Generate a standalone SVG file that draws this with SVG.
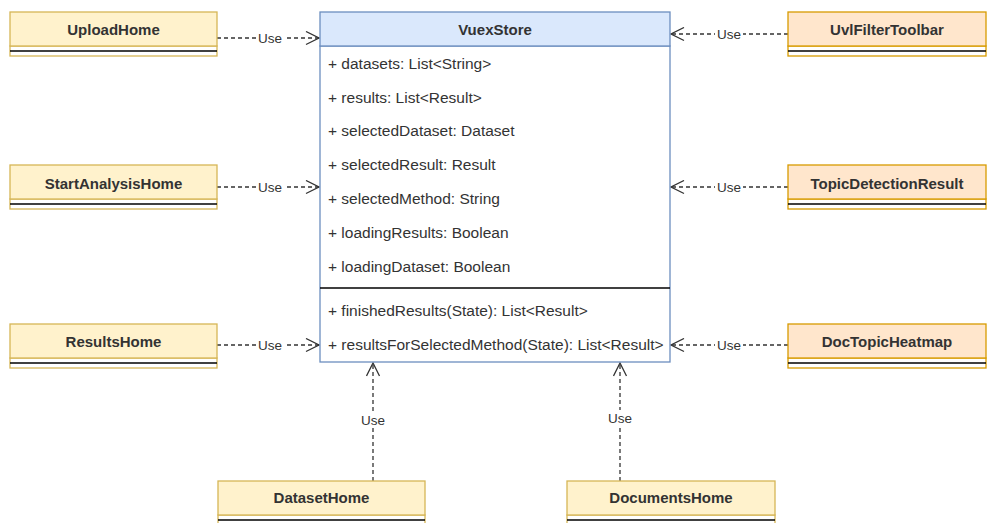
<svg xmlns="http://www.w3.org/2000/svg" width="988" height="523" viewBox="0 0 988 523">
  <style>
    .title { font-family: "Liberation Sans", Arial, sans-serif; font-size: 15px; font-weight: bold; fill: #333333; text-anchor: middle; }
    .member { font-family: "Liberation Sans", Arial, sans-serif; font-size: 15.5px; fill: #333333; }
    .lbl { font-family: "Liberation Sans", Arial, sans-serif; font-size: 13.5px; fill: #333333; text-anchor: middle; }
    .yhead { fill: #fff2cc; stroke: #d6b656; stroke-width: 1.3; }
    .ohead { fill: #ffe6cc; stroke: #d79b00; stroke-width: 1.3; }
    .ybody { fill: #ffffff; stroke: #d6b656; stroke-width: 1.3; }
    .obody { fill: #ffffff; stroke: #d79b00; stroke-width: 1.3; }
    .sep { stroke: #000000; stroke-width: 1.3; }
    .dep { fill: none; stroke: #333333; stroke-width: 1.3; stroke-dasharray: 4 3; }
    .lblbg { fill: #ffffff; }
  </style>
  <defs>
    <marker id="open" viewBox="0 0 15 15" refX="14" refY="7.5" markerWidth="15" markerHeight="15" markerUnits="userSpaceOnUse" orient="auto">
      <path d="M1 1 L14 7.5 L1 14" fill="none" stroke="#333333" stroke-width="1.3"/>
    </marker>
  </defs>

  <!-- dependency connectors -->
  <g id="connectors">
    <path class="dep" d="M217 38 H319" marker-end="url(#open)"/>
    <rect class="lblbg" x="256" y="30" width="28" height="16"/>
    <text class="lbl" x="270" y="43">Use</text>

    <path class="dep" d="M217 187 H319" marker-end="url(#open)"/>
    <rect class="lblbg" x="256" y="179" width="28" height="16"/>
    <text class="lbl" x="270" y="192">Use</text>

    <path class="dep" d="M217 345 H319" marker-end="url(#open)"/>
    <rect class="lblbg" x="256" y="337" width="28" height="16"/>
    <text class="lbl" x="270" y="350">Use</text>

    <path class="dep" d="M788 34 H671" marker-end="url(#open)"/>
    <rect class="lblbg" x="715" y="26" width="28" height="16"/>
    <text class="lbl" x="729" y="39">Use</text>

    <path class="dep" d="M788 187 H671" marker-end="url(#open)"/>
    <rect class="lblbg" x="715" y="179" width="28" height="16"/>
    <text class="lbl" x="729" y="192">Use</text>

    <path class="dep" d="M788 345 H671" marker-end="url(#open)"/>
    <rect class="lblbg" x="715" y="337" width="28" height="16"/>
    <text class="lbl" x="729" y="350">Use</text>

    <path class="dep" d="M373 481 V363" marker-end="url(#open)"/>
    <rect class="lblbg" x="359" y="412" width="28" height="16"/>
    <text class="lbl" x="373" y="425">Use</text>

    <path class="dep" d="M620 481 V363" marker-end="url(#open)"/>
    <rect class="lblbg" x="606" y="410" width="28" height="16"/>
    <text class="lbl" x="620" y="423">Use</text>
  </g>

  <!-- central store class -->
  <g id="VuexStore">
    <rect x="320" y="46" width="350" height="316" fill="#ffffff" stroke="#6c8ebf" stroke-width="1.3"/>
    <rect x="320" y="12" width="350" height="34" fill="#dae8fc" stroke="#6c8ebf" stroke-width="1.3"/>
    <text class="title" x="495" y="35">VuexStore</text>
    <text class="member" x="328" y="69">+ datasets: List&lt;String&gt;</text>
    <text class="member" x="328" y="103">+ results: List&lt;Result&gt;</text>
    <text class="member" x="328" y="136">+ selectedDataset: Dataset</text>
    <text class="member" x="328" y="170">+ selectedResult: Result</text>
    <text class="member" x="328" y="204">+ selectedMethod: String</text>
    <text class="member" x="328" y="238">+ loadingResults: Boolean</text>
    <text class="member" x="328" y="272">+ loadingDataset: Boolean</text>
    <line class="sep" x1="320" y1="288" x2="670" y2="288"/>
    <text class="member" x="328" y="316">+ finishedResults(State): List&lt;Result&gt;</text>
    <text class="member" x="328" y="350">+ resultsForSelectedMethod(State): List&lt;Result&gt;</text>
  </g>

  <!-- left-hand views -->
  <g id="UploadHome">
    <rect class="ybody" x="10" y="46" width="207" height="10"/>
    <rect class="yhead" x="10" y="12" width="207" height="34"/>
    <line class="sep" x1="10" y1="51" x2="217" y2="51"/>
    <text class="title" x="113.5" y="35">UploadHome</text>
  </g>
  <g id="StartAnalysisHome">
    <rect class="ybody" x="10" y="199" width="207" height="10"/>
    <rect class="yhead" x="10" y="165" width="207" height="34"/>
    <line class="sep" x1="10" y1="204" x2="217" y2="204"/>
    <text class="title" x="113.5" y="189">StartAnalysisHome</text>
  </g>
  <g id="ResultsHome">
    <rect class="ybody" x="10" y="358" width="207" height="10"/>
    <rect class="yhead" x="10" y="324" width="207" height="34"/>
    <line class="sep" x1="10" y1="363" x2="217" y2="363"/>
    <text class="title" x="113.5" y="347">ResultsHome</text>
  </g>

  <!-- right-hand views -->
  <g id="UvlFilterToolbar">
    <rect class="obody" x="788" y="46" width="198" height="10"/>
    <rect class="ohead" x="788" y="12" width="198" height="34"/>
    <line class="sep" x1="788" y1="51" x2="986" y2="51"/>
    <text class="title" x="887" y="35">UvlFilterToolbar</text>
  </g>
  <g id="TopicDetectionResult">
    <rect class="obody" x="788" y="199" width="198" height="10"/>
    <rect class="ohead" x="788" y="165" width="198" height="34"/>
    <line class="sep" x1="788" y1="204" x2="986" y2="204"/>
    <text class="title" x="887" y="189">TopicDetectionResult</text>
  </g>
  <g id="DocTopicHeatmap">
    <rect class="obody" x="788" y="358" width="198" height="10"/>
    <rect class="ohead" x="788" y="324" width="198" height="34"/>
    <line class="sep" x1="788" y1="363" x2="986" y2="363"/>
    <text class="title" x="887" y="347">DocTopicHeatmap</text>
  </g>

  <!-- bottom views -->
  <g id="DatasetHome">
    <rect class="ybody" x="218" y="515" width="207" height="10"/>
    <rect class="yhead" x="218" y="481" width="207" height="34"/>
    <line class="sep" x1="218" y1="520" x2="425" y2="520"/>
    <text class="title" x="321.5" y="503">DatasetHome</text>
  </g>
  <g id="DocumentsHome">
    <rect class="ybody" x="567" y="515" width="208" height="10"/>
    <rect class="yhead" x="567" y="481" width="208" height="34"/>
    <line class="sep" x1="567" y1="520" x2="775" y2="520"/>
    <text class="title" x="671" y="503">DocumentsHome</text>
  </g>
</svg>
